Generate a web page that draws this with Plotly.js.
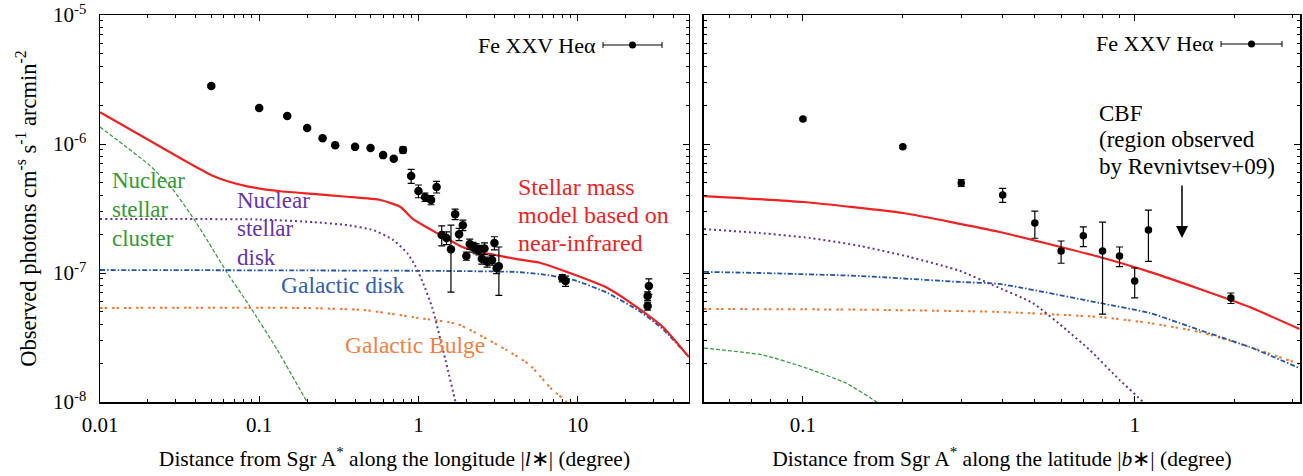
<!DOCTYPE html>
<html>
<head>
<meta charset="utf-8">
<script src="https://cdn.plot.ly/plotly-3.0.1.min.js"></script>
<style>html,body{margin:0;padding:0;background:#fff;}#chart{width:1303px;height:476px;}</style>
</head>
<body>
<div id="chart"></div>
<script>
// ---------- DATA ----------
// Left panel: Fe XXV He-alpha along longitude
const lonX   = [0.05,0.1,0.15,0.2,0.25,0.3,0.4,0.5,0.6,0.7,0.8,0.9,1.0,1.1,1.2,1.3,1.4,1.5,1.6,1.7,1.8,1.9,2.0,2.1,2.2,2.3,2.4,2.5,2.6,2.7,2.9,3.0,3.1,3.2,8.0,8.4,28,27.5,27.5];
const lonY   = [2.82e-6,1.90e-6,1.65e-6,1.33e-6,1.11e-6,0.98e-6,0.95e-6,0.93e-6,0.82e-6,0.77e-6,0.90e-6,0.565e-6,0.432e-6,0.388e-6,0.368e-6,0.465e-6,0.197e-6,0.187e-6,0.153e-6,0.286e-6,0.200e-6,0.235e-6,0.1355e-6,0.168e-6,0.159e-6,0.155e-6,0.151e-6,0.129e-6,0.155e-6,0.122e-6,0.126e-6,0.171e-6,0.109e-6,0.113e-6,0.0914e-6,0.0867e-6,0.0792e-6,0.0663e-6,0.0555e-6];
const lonErr = [0.08e-6,0.04e-6,0.04e-6,0.03e-6,0.02e-6,0.02e-6,0.02e-6,0.02e-6,0.02e-6,0.02e-6,0.05e-6,0.07e-6,0.049e-6,0.029e-6,0.03e-6,0.048e-6,0.035e-6,0.021e-6,0.082e-6,0.027e-6,0.022e-6,0.022e-6,0.01e-6,0.015e-6,0.014e-6,0.014e-6,0.013e-6,0.012e-6,0.016e-6,0.011e-6,0.011e-6,0.02e-6,0.01e-6,0.046e-6,0.006e-6,0.008e-6,0.011e-6,0.005e-6,0.004e-6];

// Right panel: Fe XXV He-alpha along latitude
const latX   = [0.1,0.2,0.3,0.4,0.5,0.6,0.7,0.8,0.9,1.0,1.1,1.95];
const latY   = [1.56e-6,0.95e-6,0.499e-6,0.403e-6,0.244e-6,0.148e-6,0.194e-6,0.148e-6,0.1355e-6,0.0867e-6,0.215e-6,0.064e-6];
const latErr = [0.02e-6,0.02e-6,0.03e-6,0.05e-6,0.058e-6,0.029e-6,0.034e-6,0.100e-6,0.0235e-6,0.0226e-6,0.092e-6,0.006e-6];

// Model curves, longitude (left)
const totLonX = [0.01,0.0206,0.0284,0.0375,0.0514,0.065,0.0841,0.136,0.219,0.357,0.577,0.771,0.93,1.156,1.48,1.89,2.38,3.05,4.07,5.85,8.17,15.4,24.9,34.8,50];
const totLonY = [1.76e-6,1.06e-6,0.845e-6,0.695e-6,0.565e-6,0.51e-6,0.47e-6,0.43e-6,0.41e-6,0.39e-6,0.368e-6,0.325e-6,0.26e-6,0.222e-6,0.187e-6,0.159e-6,0.146e-6,0.138e-6,0.1285e-6,0.1196e-6,0.104e-6,0.0766e-6,0.0517e-6,0.0375e-6,0.0223e-6];
const nscLonX = [0.01,0.0206,0.0284,0.0375,0.0471,0.063,0.0878,0.13,0.2,0.25];
const nscLonY = [1.355e-6,0.68e-6,0.45e-6,0.28e-6,0.18e-6,1.0e-7,5.45e-8,2.53e-8,1.0e-8,6.4e-9];
const nsdLonX = [0.01,0.1,0.219,0.357,0.521,0.697,0.853,0.95,1.06,1.22,1.48,1.71,1.9];
const nsdLonY = [2.62e-7,2.6e-7,2.48e-7,2.35e-7,2.15e-7,1.80e-7,1.42e-7,1.15e-7,0.86e-7,5.4e-8,2.1e-8,1.0e-8,6e-9];
const gdLonX  = [0.01,1.0,4.0,5.85,9.44,15.4,24.9,34.8,50];
const gdLonY  = [1.055e-7,1.04e-7,1.02e-7,9.8e-8,8.83e-8,7.0e-8,4.99e-8,3.61e-8,2.23e-8];
const gbLonX  = [0.01,0.18,0.45,1.0,1.76,3.57,4.99,6.86,8.53,9.5];
const gbLonY  = [5.36e-8,5.36e-8,5.17e-8,4.48e-8,4.02e-8,2.53e-8,1.94e-8,1.26e-8,1.0e-8,8e-9];

// Model curves, latitude (right)
const totLatX = [0.0503,0.1,0.2,0.392,0.784,1.109,1.57,2.22,3.14];
const totLatY = [3.95e-7,3.55e-7,2.92e-7,2.08e-7,1.33e-7,1.02e-7,7.52e-8,5.45e-8,3.68e-8];
const nscLatX = [0.0503,0.076,0.102,0.135,0.167,0.19];
const nscLatY = [2.62e-8,2.31e-8,1.84e-8,1.4e-8,1.0e-8,8e-9];
const nsdLatX = [0.0503,0.0742,0.105,0.149,0.210,0.297,0.373,0.493,0.624,0.732,0.901,1.06,1.15];
const nsdLatY = [2.19e-7,2.04e-7,1.87e-7,1.62e-7,1.33e-7,1.04e-7,8.07e-8,5.85e-8,3.61e-8,2.53e-8,1.48e-8,1.0e-8,8e-9];
const gdLatX  = [0.0503,0.0742,0.149,0.297,0.392,0.784,1.109,1.57,2.22,3.14];
const gdLatY  = [1.02e-7,1.0e-7,9.48e-8,8.52e-8,8.22e-8,5.85e-8,4.90e-8,3.61e-8,2.67e-8,1.83e-8];
const gbLatX  = [0.0503,0.149,0.392,0.784,1.109,1.57,2.22,3.14];
const gbLatY  = [5.26e-8,5.2e-8,4.99e-8,4.56e-8,4.09e-8,3.49e-8,2.67e-8,1.97e-8];

// Tick labels
const yTickVals = [1e-8,1e-7,1e-6,1e-5];
const yTickText = ['10<sup>-8</sup>','10<sup>-7</sup>','10<sup>-6</sup>','10<sup>-5</sup>'];
const xLonTickVals = [0.01,0.1,1,10];
const xLonTickText = ['0.01','0.1','1','10'];
const xLatTickVals = [0.1,1];
const xLatTickText = ['0.1','1'];

// ---------- STYLE ----------
const FONT = 'Liberation Serif, Times New Roman, serif';
const C = {red:'#ee2222', green:'#339933', purple:'#663399', blue:'#2255aa', orange:'#ee7733', bluetxt:'#3060b0', orangetxt:'#f08040', purpletxt:'#6633aa'};

function minorList(decs, mults){ const a=[]; decs.forEach(d=>mults.forEach(m=>a.push(m*d))); return a; }
const yMinor = minorList([1e-8,1e-7,1e-6],[2,3,4,5,6,7,8,9]);
const xLonMinor = minorList([0.01,0.1,1,10],[2,3,4,5,6,7,8,9]).filter(v=>v<50);
const xLatMinor = minorList([0.01,0.1,1],[2,3,4,5,6,7,8,9]).filter(v=>v>0.05 && v<3.2);

function line(x,y,color,dash,width,xa,ya){
  return {x:x,y:y,type:'scatter',mode:'lines',line:{color:color,dash:dash,width:width,shape:'spline',smoothing:0.5},xaxis:xa,yaxis:ya,hoverinfo:'skip',showlegend:false};
}
function pts(x,y,e,xa,ya,size){
  return {x:x,y:y,type:'scatter',mode:'markers',marker:{color:'#000',size:size},
    error_y:{type:'data',array:e,visible:true,color:'#000',thickness:1.2,width:3.5},xaxis:xa,yaxis:ya,showlegend:false};
}
const DASH_NSC='4px,2px', DASH_NSD='2px,3px', DASH_GD='5px,2px,1.5px,2px', DASH_GB='2.5px,2px,2.5px,5px';

const data = [
  line(nscLonX,nscLonY,C.green,DASH_NSC,1.2,'x','y'),
  line(gbLonX,gbLonY,C.orange,DASH_GB,2,'x','y'),
  line(gdLonX,gdLonY,C.blue,DASH_GD,1.8,'x','y'),
  line(nsdLonX,nsdLonY,C.purple,DASH_NSD,2,'x','y'),
  line(totLonX,totLonY,C.red,'solid',2.2,'x','y'),
  pts(lonX,lonY,lonErr,'x','y',8.5),
  line(nscLatX,nscLatY,C.green,DASH_NSC,1.2,'x2','y2'),
  line(gbLatX,gbLatY,C.orange,DASH_GB,2,'x2','y2'),
  line(gdLatX,gdLatY,C.blue,DASH_GD,1.8,'x2','y2'),
  line(nsdLatX,nsdLatY,C.purple,DASH_NSD,2,'x2','y2'),
  line(totLatX,totLatY,C.red,'solid',2.2,'x2','y2'),
  pts(latX,latY,latErr,'x2','y2',7.5)
];

// pixel -> paper helpers (plot area: x 100..1300, y 15..402)
const PX = p => (p-100)/1200;
const PY = p => (402-p)/387;

const annotations = [];
function textLines(lines, xpx, y0, step, color, size){
  lines.forEach((t,i)=>annotations.push({xref:'paper',yref:'paper',x:PX(xpx),y:PY(y0+i*step),xanchor:'left',yanchor:'middle',
    text:t,showarrow:false,font:{family:FONT,size:size,color:color}}));
}
textLines(['Nuclear','stellar','cluster'],110,181,28.5,C.green,23);
textLines(['Nuclear','stellar','disk'],235,200,28.5,C.purpletxt,23);
textLines(['Stellar mass','model based on','near-infrared'],516,187,28,C.red,24);
textLines(['Galactic disk'],279,285,28,C.bluetxt,23.5);
textLines(['Galactic Bulge'],343,345,28,C.orangetxt,23.5);
textLines(['CBF','(region observed','by Revnivtsev+09)'],1097,113,27,'#000',23);
// legend keys
[[598,45],[1216,44]].forEach(([xe,yc])=>{
  annotations.push({xref:'paper',yref:'paper',x:PX(xe),y:PY(yc),xanchor:'right',yanchor:'middle',text:'Fe XXV Heα',showarrow:false,font:{family:FONT,size:22,color:'#000'}});
});
// arrow
annotations.push({xref:'paper',yref:'paper',x:PX(1182),y:PY(238),ax:0,ay:-54,text:'',showarrow:true,arrowhead:2,arrowsize:1.6,arrowwidth:1.5,arrowcolor:'#000'});

const shapes = [];
[[603,662,45],[1221,1282,44]].forEach(([a,b,yc])=>{
  shapes.push({type:'line',xref:'paper',yref:'paper',x0:PX(a),x1:PX(b),y0:PY(yc),y1:PY(yc),line:{color:'#000',width:1}});
  shapes.push({type:'line',xref:'paper',yref:'paper',x0:PX(a),x1:PX(a),y0:PY(yc-3),y1:PY(yc+3),line:{color:'#000',width:1}});
  shapes.push({type:'line',xref:'paper',yref:'paper',x0:PX(b),x1:PX(b),y0:PY(yc-3),y1:PY(yc+3),line:{color:'#000',width:1}});
  const m=(a+b)/2;
  shapes.push({type:'circle',xref:'paper',yref:'paper',x0:PX(m-3.5),x1:PX(m+3.5),y0:PY(yc+3.5),y1:PY(yc-3.5),fillcolor:'#000',line:{color:'#000',width:0}});
});

const axBase = {type:'log',showgrid:false,zeroline:false,showline:true,linecolor:'#000',linewidth:1.5,
  ticks:'inside',ticklen:6,tickwidth:1,tickcolor:'#000',mirror:'ticks',
  tickfont:{family:FONT,size:21,color:'#000'},ticklabelstandoff:8};
const minorBase = {ticks:'inside',ticklen:3,tickwidth:1,tickcolor:'#000',tickmode:'array'};

const layout = {
  width:1303,height:476,margin:{l:100,r:3,t:15,b:74},
  paper_bgcolor:'#fff',plot_bgcolor:'#fff',font:{family:FONT,color:'#000'},
  showlegend:false,
  xaxis:Object.assign({},axBase,{domain:[0,0.4908],anchor:'y',range:[-2,Math.log10(50)],ticklabelstandoff:3,
    tickmode:'array',tickvals:xLonTickVals,ticktext:xLonTickText,
    minor:Object.assign({},minorBase,{tickvals:xLonMinor}),
    title:{text:'Distance from Sgr A<sup>*</sup> along the longitude |<i>l</i>∗| (degree)',font:{family:FONT,size:21.5,color:'#000'},standoff:15}}),
  yaxis:Object.assign({},axBase,{domain:[0,1],anchor:'x',range:[-8,-5],
    tickmode:'array',tickvals:yTickVals,ticktext:yTickText,
    minor:Object.assign({},minorBase,{tickvals:yMinor}),
    title:{text:'Observed photons cm<sup>-s</sup> s<sup>-1</sup> arcmin<sup>-2</sup>',font:{family:FONT,size:22.5,color:'#000'},standoff:10}}),
  xaxis2:Object.assign({},axBase,{domain:[0.5033,1],anchor:'y2',range:[Math.log10(0.0503),Math.log10(3.15)],ticklabelstandoff:3,
    tickmode:'array',tickvals:xLatTickVals,ticktext:xLatTickText,
    minor:Object.assign({},minorBase,{tickvals:xLatMinor}),
    title:{text:'Distance from Sgr A<sup>*</sup> along the latitude |<i>b</i>∗| (degree)',font:{family:FONT,size:21.5,color:'#000'},standoff:15}}),
  yaxis2:Object.assign({},axBase,{domain:[0,1],anchor:'x2',range:[-8,-5],showticklabels:false,
    tickmode:'array',tickvals:yTickVals,ticktext:yTickText,
    minor:Object.assign({},minorBase,{tickvals:yMinor})}),
  annotations:annotations,
  shapes:shapes
};

Plotly.newPlot('chart',data,layout,{displayModeBar:false,staticPlot:true});
</script>
</body>
</html>
